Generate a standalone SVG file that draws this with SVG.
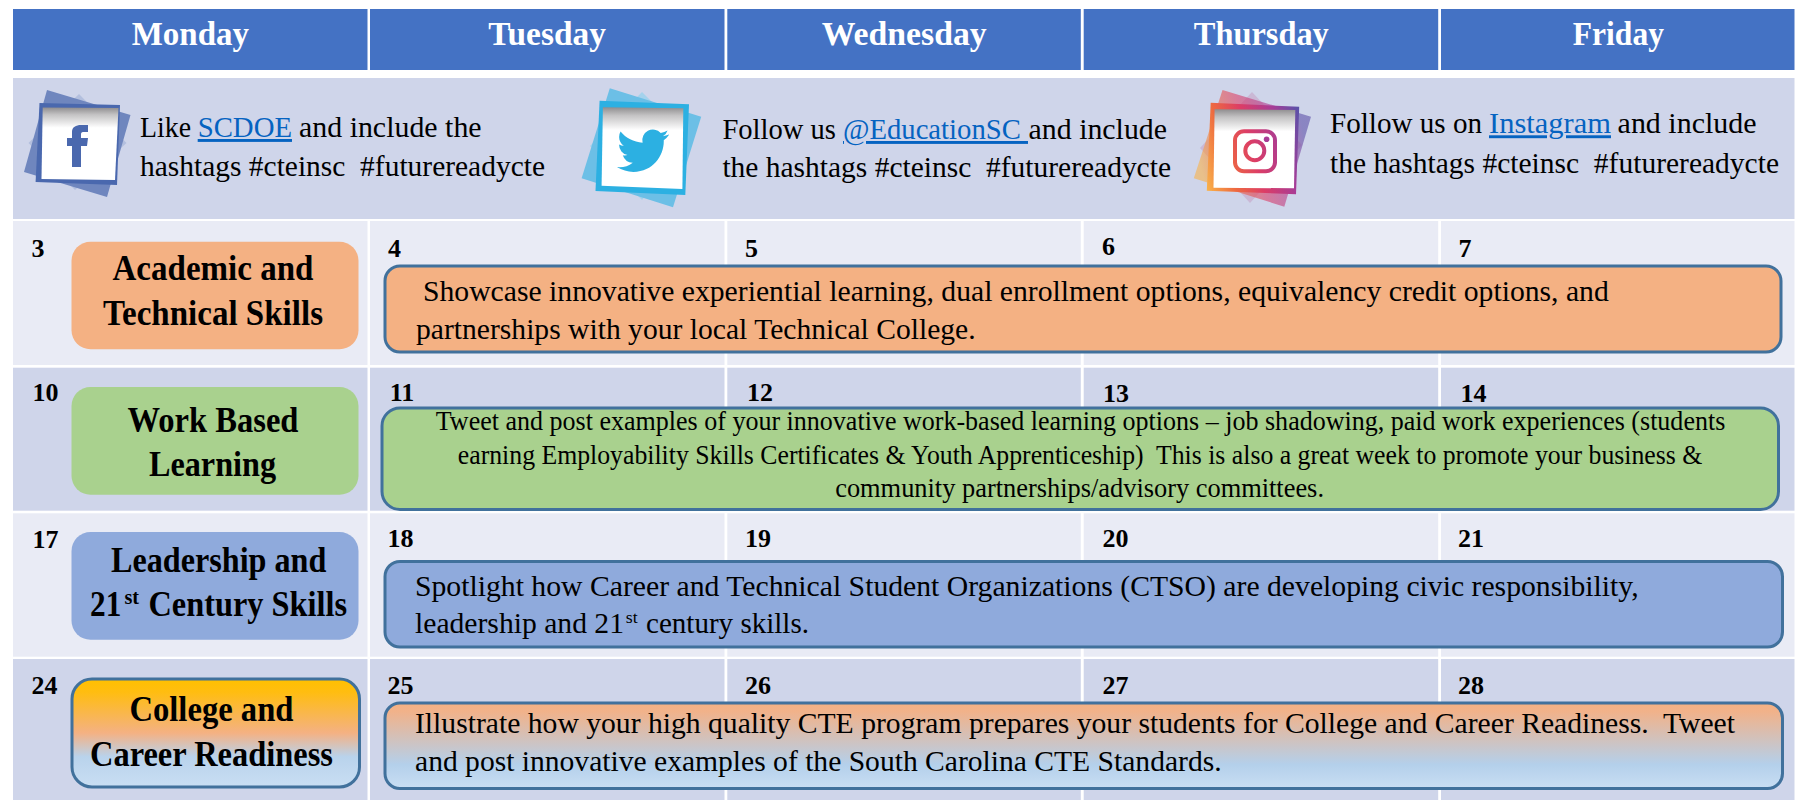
<svg xmlns="http://www.w3.org/2000/svg" width="1797" height="800" viewBox="0 0 1797 800">
<style>
text{font-family:"Liberation Serif","Times New Roman",serif;fill:#000;white-space:pre}
.h{font-size:33px;font-weight:700;fill:#fff}
.s{font-size:29px}
.n{font-size:26px;font-weight:700}
.t{font-size:35px;font-weight:700}
.b{font-size:29.500px}
.g{font-size:26.500px}
.u{font-size:17px}
.tu{font-size:21px;font-weight:700}
.a{fill:#0563C1;text-decoration:underline}
.hd{fill:#4472C4}.dk{fill:#CFD5EA}.lt{fill:#E9EBF5}
.box{stroke:#41719C;stroke-width:3}
</style>
<defs>
<linearGradient id="inner" x1="0" y1="0" x2="0" y2="1"><stop offset="0" stop-color="#8F8D8F"/><stop offset=".1" stop-color="#C4C3C4"/><stop offset=".28" stop-color="#fff"/></linearGradient>
<linearGradient id="cr" x1="0" y1="0" x2="0" y2="1"><stop offset="0" stop-color="#FFC000"/><stop offset=".12" stop-color="#FFBD10"/><stop offset=".5" stop-color="#F4B183"/><stop offset=".72" stop-color="#B9D3EC"/><stop offset="1" stop-color="#C9DEF3"/></linearGradient>
<linearGradient id="crw" x1="0" y1="0" x2="0" y2="1"><stop offset="0" stop-color="#F4B183"/><stop offset=".1" stop-color="#F1B28A"/><stop offset=".72" stop-color="#B4D0EB"/><stop offset="1" stop-color="#C9DEF3"/></linearGradient>
<linearGradient id="ig" gradientUnits="userSpaceOnUse" x1="1200" y1="165" x2="1305" y2="135"><stop offset="0" stop-color="#F9B24A"/><stop offset=".25" stop-color="#EE6A40"/><stop offset=".5" stop-color="#DC3D66"/><stop offset=".78" stop-color="#A83C96"/><stop offset="1" stop-color="#5D50A8"/></linearGradient>
</defs>

<g id="grid">
<rect class="hd" x="13" y="9" width="354.500" height="61"/>
<rect class="hd" x="370" y="9" width="354.500" height="61"/>
<rect class="hd" x="727.300" y="9" width="353.500" height="61"/>
<rect class="hd" x="1083.700" y="9" width="354.500" height="61"/>
<rect class="hd" x="1441" y="9" width="353.500" height="61"/>
<rect class="dk" x="13" y="78" width="1781.500" height="141"/>
<rect class="lt" x="13" y="221" width="1781.500" height="144"/>
<rect class="dk" x="13" y="367.700" width="1781.500" height="143"/>
<rect class="lt" x="13" y="513.300" width="1781.500" height="143.400"/>
<rect class="dk" x="13" y="659" width="1781.500" height="141"/>
<g fill="#fff">
<rect x="367.500" y="219" width="2.500" height="581"/>
<rect x="724.500" y="219" width="2.800" height="581"/>
<rect x="1080.800" y="219" width="2.900" height="581"/>
<rect x="1438.200" y="219" width="2.800" height="581"/>
</g>
</g>

<g id="header-days">
<text class="h" x="131.700" y="45" textLength="117.300" lengthAdjust="spacingAndGlyphs">Monday</text>
<text class="h" x="488.300" y="45" textLength="117.700" lengthAdjust="spacingAndGlyphs">Tuesday</text>
<text class="h" x="821.700" y="45" textLength="165" lengthAdjust="spacingAndGlyphs">Wednesday</text>
<text class="h" x="1193.800" y="45" textLength="135" lengthAdjust="spacingAndGlyphs">Thursday</text>
<text class="h" x="1572.800" y="45" textLength="91.200" lengthAdjust="spacingAndGlyphs">Friday</text>
</g>

<g id="social-facebook">
<polygon points="79,94 126.500,143 75,190 28.500,143" fill="#B3BFDE"/>
<polygon points="47,90 130.500,115 107,197 24,172" fill="#6F86BE"/>
<polygon points="39.500,103 120,105 117,185 35.600,182" fill="#4A68AE"/>
<polygon points="42.700,107.500 118.500,108 115,180 41.500,179" fill="url(#inner)"/>
<path d="M72 167V146H67V138H72V132C72 127 76 125 81 125H88V132H83C81.500 132 81 133 81 134.500V138H88L87 146H81V167Z" fill="#4A68AE"/>
<text class="s" x="140" y="137"><tspan x="140" textLength="51" lengthAdjust="spacingAndGlyphs">Like</tspan><tspan class="a" x="197.700" textLength="94.300" lengthAdjust="spacingAndGlyphs">SCDOE</tspan><tspan x="299" textLength="182.600" lengthAdjust="spacingAndGlyphs">and include the</tspan></text>
<text class="s" x="140" y="175.700" textLength="405" lengthAdjust="spacingAndGlyphs">hashtags #cteinsc  #futurereadycte</text>
</g>

<g id="social-twitter">
<polygon points="642,92 690,140 642,200 590,146" fill="#A4D2EC"/>
<polygon points="609.800,88.300 701.200,116.700 673,207.300 581.600,178.300" fill="#6CBFE6"/>
<polygon points="599.600,100.700 689,104.300 685.300,195 595.500,191" fill="#2CB0E2"/>
<polygon points="602.900,107.300 683.300,108.300 682.400,189 601.600,185.700" fill="url(#inner)"/>
<path transform="translate(617 124.700) scale(2.170)" fill="#2CB0E2" d="M23.953 4.570a10 10 0 01-2.825.775 4.958 4.958 0 002.163-2.723c-.951.555-2.005.959-3.127 1.184a4.920 4.920 0 00-8.384 4.482C7.690 8.095 4.067 6.130 1.640 3.162a4.822 4.822 0 00-.666 2.475c0 1.710.870 3.213 2.188 4.096a4.904 4.904 0 01-2.228-.616v.060a4.923 4.923 0 003.946 4.827 4.996 4.996 0 01-2.212.085 4.936 4.936 0 004.604 3.417 9.867 9.867 0 01-6.102 2.105c-.390 0-.779-.023-1.170-.067a13.995 13.995 0 007.557 2.209c9.053 0 13.998-7.496 13.998-13.985 0-.210 0-.420-.015-.630A9.935 9.935 0 0024 4.590z"/>
<text class="s" x="722.400" y="139"><tspan x="722.400" textLength="113.600" lengthAdjust="spacingAndGlyphs">Follow us</tspan><tspan class="a" x="843" textLength="185" lengthAdjust="spacingAndGlyphs">@EducationSC </tspan><tspan x="1028.600" textLength="138.400" lengthAdjust="spacingAndGlyphs">and include</tspan></text>
<text class="s" x="722.400" y="176.700" textLength="448.600" lengthAdjust="spacingAndGlyphs">the hashtags #cteinsc  #futurereadycte</text>
</g>

<g id="social-instagram">
<polygon points="1252,92 1302,145 1250,203 1200,148" fill="#C8B0D0" opacity=".8"/>
<polygon points="1222.500,90 1311,116.700 1284.300,206.700 1193.800,178.300" fill="url(#ig)" opacity=".6"/>
<polygon points="1210.700,102.700 1299.200,106.700 1296,194.300 1206.800,190.700" fill="url(#ig)"/>
<polygon points="1214.600,109.300 1295.300,110 1294,188.300 1213.500,187.700" fill="url(#inner)"/>
<g fill="none" stroke="url(#ig)" stroke-width="4"><rect x="1235" y="131.300" width="40" height="40" rx="9"/><circle cx="1254.800" cy="150.700" r="9.500"/></g>
<circle cx="1266.600" cy="139.300" r="2.800" fill="#A83C96"/>
<text class="s" x="1330" y="133.300"><tspan x="1330" textLength="152" lengthAdjust="spacingAndGlyphs">Follow us on</tspan><tspan class="a" x="1489" textLength="122" lengthAdjust="spacingAndGlyphs">Instagram</tspan><tspan x="1617.600" textLength="138.900" lengthAdjust="spacingAndGlyphs">and include</tspan></text>
<text class="s" x="1330" y="172.700" textLength="449" lengthAdjust="spacingAndGlyphs">the hashtags #cteinsc  #futurereadycte</text>
</g>

<g id="dates">
<text class="n" x="31.600" y="256.700">3</text><text class="n" x="388" y="257.300">4</text><text class="n" x="745" y="257.300">5</text><text class="n" x="1102" y="255">6</text><text class="n" x="1458.400" y="257.300">7</text>
<text class="n" x="32.500" y="400.700">10</text><text class="n" x="389.800" y="401">11</text><text class="n" x="747" y="401">12</text><text class="n" x="1103" y="401.700">13</text><text class="n" x="1460.400" y="401.700">14</text>
<text class="n" x="32.500" y="547.700">17</text><text class="n" x="387.500" y="547.300">18</text><text class="n" x="745" y="547.300">19</text><text class="n" x="1102.400" y="547.300">20</text><text class="n" x="1458" y="547.300">21</text>
<text class="n" x="31.400" y="694">24</text><text class="n" x="387.500" y="694">25</text><text class="n" x="745" y="694">26</text><text class="n" x="1102.400" y="694">27</text><text class="n" x="1458" y="694">28</text>
</g>

<g id="week1-title">
<rect x="71.500" y="241.700" width="287" height="107.600" rx="19" fill="#F4B183"/>
<text class="t" x="112.500" y="280" textLength="200.900" lengthAdjust="spacingAndGlyphs">Academic and</text>
<text class="t" x="103" y="325" textLength="220" lengthAdjust="spacingAndGlyphs">Technical Skills</text>
</g>
<g id="week1-note">
<rect class="box" x="385" y="266" width="1396" height="86" rx="15" fill="#F4B183"/>
<text class="b" x="423" y="301" textLength="1185.800" lengthAdjust="spacingAndGlyphs">Showcase innovative experiential learning, dual enrollment options, equivalency credit options, and</text>
<text class="b" x="416" y="339" textLength="559.600" lengthAdjust="spacingAndGlyphs">partnerships with your local Technical College.</text>
</g>

<g id="week2-title">
<rect x="71.500" y="387" width="287" height="107.700" rx="19" fill="#A9D18E"/>
<text class="t" x="127.400" y="431.700" textLength="171.100" lengthAdjust="spacingAndGlyphs">Work Based</text>
<text class="t" x="149" y="475.700" textLength="127" lengthAdjust="spacingAndGlyphs">Learning</text>
</g>
<g id="week2-note">
<rect class="box" x="382" y="408" width="1396.500" height="101.500" rx="18" fill="#A9D18E"/>
<text class="g" x="435.800" y="430" textLength="1289.500" lengthAdjust="spacingAndGlyphs">Tweet and post examples of your innovative work-based learning options – job shadowing, paid work experiences (students</text>
<text class="g" x="457.800" y="464.300" textLength="1244.500" lengthAdjust="spacingAndGlyphs">earning Employability Skills Certificates &amp; Youth Apprenticeship)  This is also a great week to promote your business &amp;</text>
<text class="g" x="835.200" y="497.300" textLength="488.800" lengthAdjust="spacingAndGlyphs">community partnerships/advisory committees.</text>
</g>

<g id="week3-title">
<rect x="71.500" y="532" width="287" height="107.700" rx="19" fill="#8FAADC"/>
<text class="t" x="111" y="571.700" textLength="215.400" lengthAdjust="spacingAndGlyphs">Leadership and</text>
<text class="t" x="90" y="615.700"><tspan x="90" textLength="31.300" lengthAdjust="spacingAndGlyphs">21</tspan><tspan class="tu" x="124.400" y="604" textLength="14.600" lengthAdjust="spacingAndGlyphs">st</tspan><tspan x="148.500" y="615.700" textLength="198.500" lengthAdjust="spacingAndGlyphs">Century Skills</tspan></text>
</g>
<g id="week3-note">
<rect class="box" x="385" y="561.500" width="1397.500" height="85.500" rx="15" fill="#8FAADC"/>
<text class="b" x="415" y="596" textLength="1223.700" lengthAdjust="spacingAndGlyphs">Spotlight how Career and Technical Student Organizations (CTSO) are developing civic responsibility,</text>
<text class="b" x="415" y="633.300"><tspan x="415" textLength="209" lengthAdjust="spacingAndGlyphs">leadership and 21</tspan><tspan class="u" x="625.800" y="623" textLength="11.900" lengthAdjust="spacingAndGlyphs">st</tspan><tspan x="646" y="633.300" textLength="163" lengthAdjust="spacingAndGlyphs">century skills.</tspan></text>
</g>

<g id="week4-title">
<rect class="box" x="72" y="679" width="287.500" height="108" rx="20" fill="url(#cr)"/>
<text class="t" x="129.400" y="720.700" textLength="164.100" lengthAdjust="spacingAndGlyphs">College and</text>
<text class="t" x="90" y="766" textLength="243" lengthAdjust="spacingAndGlyphs">Career Readiness</text>
</g>
<g id="week4-note">
<rect class="box" x="385" y="703" width="1397.500" height="85.500" rx="15" fill="url(#crw)"/>
<text class="b" x="415" y="732.700" textLength="1320" lengthAdjust="spacingAndGlyphs">Illustrate how your high quality CTE program prepares your students for College and Career Readiness.  Tweet</text>
<text class="b" x="415" y="771" textLength="806.600" lengthAdjust="spacingAndGlyphs">and post innovative examples of the South Carolina CTE Standards.</text>
</g>
</svg>
